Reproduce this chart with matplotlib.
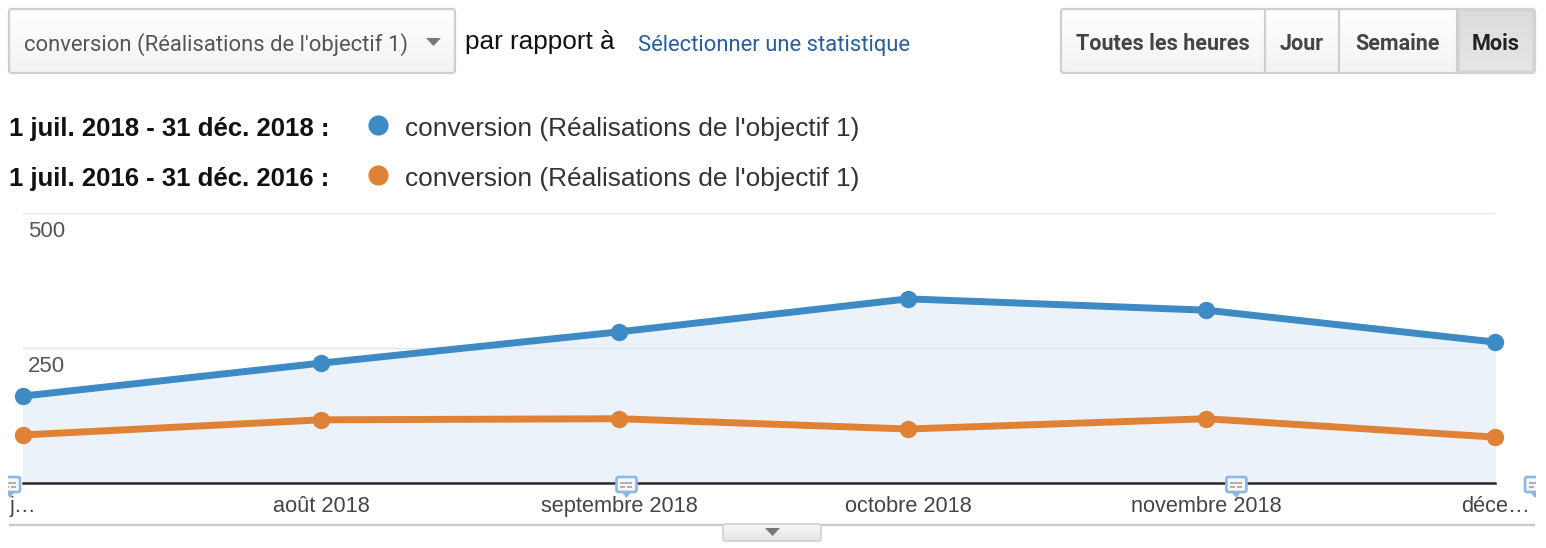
import matplotlib
matplotlib.use("Agg")
import matplotlib.pyplot as plt
import matplotlib.dates as mdates
import numpy as np
import pandas as pd
from matplotlib.patches import FancyBboxPatch, Polygon, Rectangle

# Data
months = pd.to_datetime(["2018-07-01", "2018-08-01", "2018-09-01", "2018-10-01", "2018-11-01", "2018-12-01"])
month_labels = ["j…", "août 2018", "septembre 2018", "octobre 2018", "novembre 2018", "déce…"]
conv_2018 = [161, 222, 280, 341, 320, 261]
conv_2016 = [89, 117, 119, 100, 119, 85]
y_ticks = [0, 250, 500]
y_labels = ["", "250", "500"]
note_months = pd.to_datetime(["2018-07-01", "2018-09-01", "2018-11-01"])

metric = "conversion (Réalisations de l'objectif 1)"
range_2018 = "1 juil. 2018 - 31 déc. 2018 :"
range_2016 = "1 juil. 2016 - 31 déc. 2016 :"
buttons = ["Toutes les heures", "Jour", "Semaine", "Mois"]

W, H = 1546, 548
BLUE = "#3d8ac4"
ORANGE = "#e08236"
UI_FONT = "Roboto"
CHART_FONT = "Liberation Sans"

fig = plt.figure(figsize=(W / 100, H / 100), dpi=100, facecolor="white")

# Chart axes
ax = fig.add_axes([23 / W, 1 - 483 / H, (1495 - 23) / W, (483 - 213) / H])
ax.set_xlim(months[0], months[-1])
ax.set_ylim(0, 500)
ax.patch.set_visible(False)
for s in ["top", "left", "right"]:
    ax.spines[s].set_visible(False)
ax.spines["bottom"].set_color("#2a2a2a")
ax.spines["bottom"].set_linewidth(1.8)
ax.spines["bottom"].set_zorder(6)
ax.set_yticks(y_ticks)
ax.set_yticklabels([])
ax.set_xticks(months)
ax.set_xticklabels([])
ax.tick_params(length=0)
ax.grid(axis="y", color="#e6e6e6", linewidth=1)
ax.set_axisbelow(True)

ax.fill_between(months, conv_2018, 0, color="#ebf2f9", zorder=1)
ax.axhline(250, color="#dfe6ec", linewidth=1, zorder=1.5)
ax.plot(months, conv_2018, color=BLUE, lw=5, marker="o", ms=12.5, mew=0, clip_on=False, zorder=3)
ax.plot(months, conv_2016, color=ORANGE, lw=5, marker="o", ms=12.5, mew=0, clip_on=False, zorder=4)

for val, lab in zip(y_ticks, y_labels):
    ax.annotate(lab, xy=(0, val), xycoords=("axes fraction", "data"), xytext=(3.5, -6), textcoords="offset points",
                ha="left", va="top", fontsize=16, color="#555555", family=CHART_FONT)

# Tick labels, ends are pinned to the chart edges
trans = ax.get_xaxis_transform()
for i, (m, lab) in enumerate(zip(months, month_labels)):
    xnum = mdates.date2num(m)
    if i == 0:
        offset, ha = -10, "left"
    elif i == len(months) - 1:
        offset, ha = 25, "right"
    else:
        offset, ha = 0, "center"
    ax.annotate(lab, xy=(xnum, 0), xycoords=trans, xytext=(offset, -16.6), textcoords="offset points", ha=ha,
                va="center", fontsize=15.7, color="#444444", family=CHART_FONT)

# Overlay in pixel coordinates for the page controls
ui = fig.add_axes([0, 0, 1, 1], zorder=5)
ui.patch.set_visible(False)
ui.axis("off")


def gradient_box(x0, y0, x1, y1, top, bottom, edge="#cfcfcf", lw=1.6, rounded=3):
    box = FancyBboxPatch((x0, y0), x1 - x0, y1 - y0, boxstyle=f"round,pad=0,rounding_size={rounded}",
                         facecolor="none", edgecolor=edge, linewidth=lw, zorder=3)
    ui.add_patch(box)
    grad = np.linspace(0, 1, 64).reshape(-1, 1, 1)
    cols = np.array(matplotlib.colors.to_rgb(top)) * (1 - grad) + np.array(matplotlib.colors.to_rgb(bottom)) * grad
    im = ui.imshow(cols, extent=(x0, x1, y1, y0), aspect="auto", zorder=2)
    im.set_clip_path(box)
    return box


def note_icon(cx, clip=None):
    # small speech bubble sitting on the axis line
    top, bottom = 477, 492
    parts = [Polygon([[cx - 5, bottom], [cx + 5, bottom], [cx, bottom + 6]], closed=True,
                     facecolor="#8fb8e0", edgecolor="none", zorder=7),
             FancyBboxPatch((cx - 10, top), 20, bottom - top, boxstyle="round,pad=0,rounding_size=2",
                            facecolor="#f4f6f8", edgecolor="#8fb8e0", linewidth=1.9, zorder=7),
             Rectangle((cx - 6, top + 5), 12, 1.6, facecolor="#b0b0b0", zorder=8),
             Rectangle((cx - 6, top + 9), 5, 1.6, facecolor="#b0b0b0", zorder=8),
             Rectangle((cx + 1, top + 9), 5, 1.6, facecolor="#b0b0b0", zorder=8)]
    for p in parts:
        ui.add_patch(p)
        if clip is not None:
            p.set_clip_path(Rectangle((clip[0], 470), clip[1] - clip[0], 30, transform=ui.transData))


# Metric dropdown
gradient_box(9, 9, 455, 73, "#ffffff", "#f3f3f3")
ui.text(24, 45, metric, fontsize=15.8, color="#555555", family=UI_FONT, va="center", ha="left")
ui.add_patch(Polygon([[426, 38], [441, 38], [433.5, 46]], closed=True, facecolor="#777777", edgecolor="none", zorder=4))
ui.text(465, 42, "par rapport à", fontsize=18.8, color="#111111", family=CHART_FONT, va="center", ha="left")
ui.text(638, 45, "Sélectionner une statistique", fontsize=15.8, color="#2a5d9c", family=UI_FONT, va="center", ha="left")

# Time scale buttons
gradient_box(1061, 9, 1535, 73, "#ffffff", "#f3f3f3")
gradient_box(1458, 10, 1534, 72, "#dcdcdc", "#e6e6e6", edge="#d4d4d4", lw=2.4, rounded=2)
for x in [1265, 1339, 1457]:
    ui.plot([x, x], [10, 72], color="#cfcfcf", lw=1.6, zorder=4)
btn_x = [1163, 1302, 1398, 1496]
btn_col = ["#444444", "#444444", "#444444", "#222222"]
for x, lab, c in zip(btn_x, buttons, btn_col):
    ui.text(x, 44.5, lab, fontsize=15.5, fontweight="bold", color=c, family=UI_FONT, va="center", ha="center")

# Legend rows
for y, rng, c in [(129, range_2018, BLUE), (179, range_2016, ORANGE)]:
    ui.text(9, y, rng, fontsize=18.5, fontweight="bold", color="#111111", family=CHART_FONT, va="center", ha="left")
    ui.plot([378], [y - 4], "o", ms=14.5, mew=0, color=c, zorder=4)
    ui.text(405, y, metric, fontsize=18.9, color="#333333", family=CHART_FONT, va="center", ha="left")

# Bottom rule and collapse tab
ui.plot([10, 1534], [525, 525], color="#c8c8c8", lw=1.6, zorder=1)
gradient_box(723, 524, 821, 541, "#f6f6f6", "#e4e4e4", edge="#d0d0d0", lw=1.2, rounded=2)
ui.add_patch(Polygon([[765, 528], [780, 528], [772.5, 536]], closed=True, facecolor="#777777", edgecolor="none", zorder=4))

# Annotation bubbles, x comes from the chart date scale
x0_num = mdates.date2num(months[0])
x1_num = mdates.date2num(months[-1])
note_px = [23 + (mdates.date2num(d) - x0_num) / (x1_num - x0_num) * (1495 - 23) for d in note_months]
note_icon(note_px[0] - 13, clip=(8, 22))
note_icon(note_px[1] + 7)
note_icon(note_px[2] + 30)
note_icon(1535, clip=(1523, 1536))

ui.set_xlim(0, W)
ui.set_ylim(H, 0)

plt.savefig("out.png", dpi=100)
